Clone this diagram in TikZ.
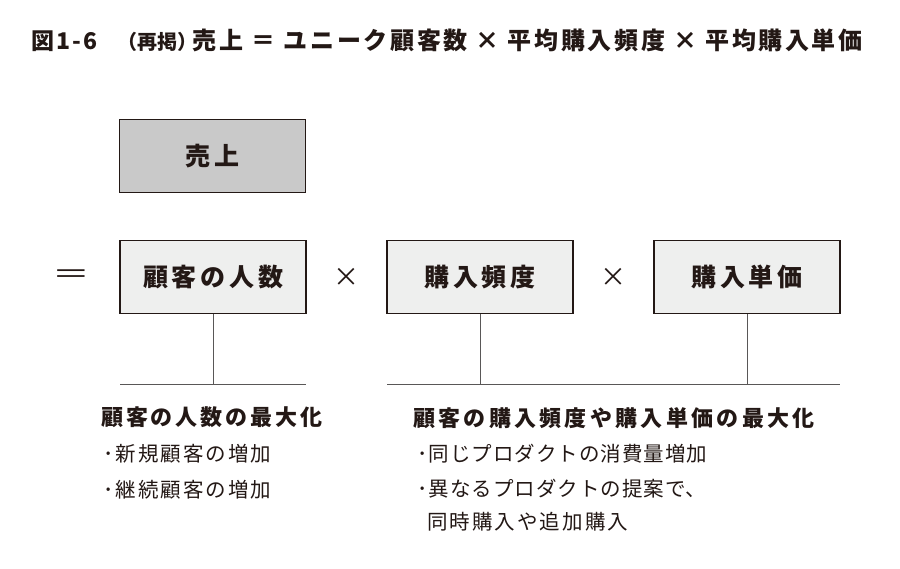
\documentclass[tikz,border=0pt]{standalone}
\usepackage{fontspec}
\usepackage{graphicx}
\setmainfont{Noto Sans CJK JP}
\definecolor{ink}{HTML}{231815}
\definecolor{topfill}{HTML}{C9C9C9}
\definecolor{boxfill}{HTML}{EEEFEE}
\definecolor{linec}{HTML}{595757}
\tikzset{
  termbox/.style={draw=ink, line width=1.4pt, minimum width=186pt, minimum height=73pt, inner sep=0pt, text=ink, font=\fontsize{25}{25}\selectfont\bfseries\addfontfeatures{LetterSpace=15}},
  conn/.style={draw=linec, line width=1pt},
  op/.style={text=ink, font=\fontsize{26}{26}\selectfont, inner sep=0pt},
  head/.style={anchor=west, inner sep=0pt, text=ink, font=\fontsize{22}{22}\selectfont\bfseries\addfontfeatures{LetterSpace=13}},
  item/.style={anchor=west, inner sep=0pt, text=ink, font=\fontsize{20.5}{20.5}\selectfont\addfontfeatures{LetterSpace=10}},
  itemtight/.style={item, font=\fontsize{20.5}{20.5}\selectfont\addfontfeatures{LetterSpace=5}},
}
\begin{document}
\begin{tikzpicture}[x=1pt,y=-1pt]
\useasboundingbox (0,0) rectangle (900,568);
\fill[white] (0,0) rectangle (900,568);
% title
\node[anchor=west, inner sep=0pt, text=ink] (title) at (31,40)
  {{\fontsize{23}{23}\selectfont\bfseries\addfontfeatures{LetterSpace=10}図1-6}\hspace{20pt}{\fontsize{20}{20}\selectfont\bfseries （再掲）}\hspace{-5pt}{\fontsize{24}{24}\selectfont\bfseries\addfontfeatures{LetterSpace=11}売上 ＝ ユニーク顧客数 × 平均購入頻度 × 平均購入単価}};
% boxes
\node[termbox, fill=topfill] (sales) at (212.5,156) {売上};
\node[termbox, fill=boxfill] (cust) at (213,277) {顧客の人数};
\node[termbox, fill=boxfill] (freq) at (480,277) {購入頻度};
\node[termbox, fill=boxfill] (price) at (747,277) {購入単価};
% operators
\node[op] (eq) at (71,277) {\scalebox{1.45}[1]{＝}};
\node[op] (x1) at (346,277) {×};
\node[op] (x2) at (613,277) {×};
% connectors
\coordinate (lb) at (213,384);
\coordinate (l1) at (120,384);
\coordinate (l2) at (306,384);
\coordinate (rb1) at (480,384);
\coordinate (rb2) at (747,384);
\coordinate (r1) at (387,384);
\coordinate (r2) at (840,384);
\draw[conn] (cust.south) -- (lb);
\draw[conn] (l1) -- (l2);
\draw[conn] (freq.south) -- (rb1);
\draw[conn] (price.south) -- (rb2);
\draw[conn] (r1) -- (r2);
% texts
\node[head] (h1) at (101,417) {顧客の人数の最大化};
\node[item] (a1) at (103,454) {･新規顧客の増加};
\node[item] (a2) at (103,490) {･継続顧客の増加};
\node[head, font=\fontsize{22}{22}\selectfont\bfseries\addfontfeatures{LetterSpace=15}] (h2) at (413,418) {顧客の購入頻度や購入単価の最大化};
\node[itemtight] (b1) at (417,454) {･同じプロダクトの消費量増加};
\node[itemtight] (b2) at (417,489) {･異なるプロダクトの提案で、};
\node[item] (b3) at (427,522) {同時購入や追加購入};
\end{tikzpicture}
\end{document}
